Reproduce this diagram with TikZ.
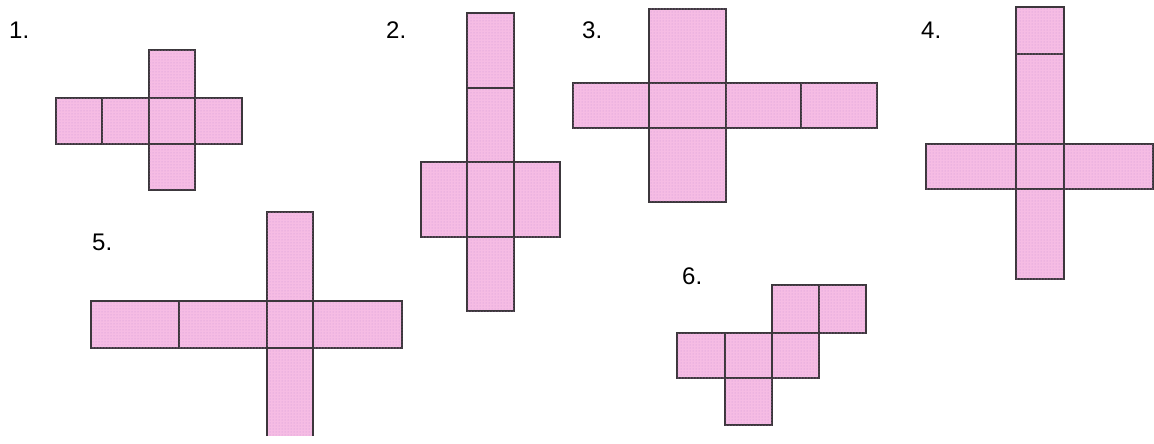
\documentclass[tikz,border=0pt]{standalone}
\usepackage{fontspec}
\setmainfont{Liberation Sans}
\usetikzlibrary{patterns}
\definecolor{netpink}{RGB}{246,188,228}
\definecolor{netdot}{RGB}{205,150,215}
\definecolor{netedge}{RGB}{60,55,60}
\tikzstyle{face} = [
    fill=netpink,
    postaction={pattern=dots, pattern color=netdot},
    draw=netedge,
    line width=1.4pt
]
\tikzstyle{openface} = [
    draw=netedge,
    line width=1.4pt
]
\tikzstyle{numlabel} = [
    anchor=base west,
    inner sep=0pt,
    font=\fontsize{24}{28}\selectfont
]

\begin{document}
\begin{tikzpicture}[x=1pt, y=-1pt]

\useasboundingbox (0,0) rectangle (1154,444);

% net 1
\node (lab1) [numlabel] at (9,39) {1.};
\draw [face] (149,50) rectangle (195,98);
\draw [face] (56,98) rectangle (102,144);
\draw [face] (102,98) rectangle (149,144);
\draw [face] (149,98) rectangle (195,144);
\draw [face] (195,98) rectangle (242,144);
\draw [face] (149,144) rectangle (195,190);

% net 2
\node (lab2) [numlabel] at (386,39) {2.};
\draw [face] (467,13) rectangle (514,88);
\draw [face] (467,88) rectangle (514,162);
\draw [face] (421,162) rectangle (467,237);
\draw [face] (467,162) rectangle (514,237);
\draw [face] (514,162) rectangle (560,237);
\draw [face] (467,237) rectangle (514,311);

% net 3
\node (lab3) [numlabel] at (582,39) {3.};
\draw [face] (649,9) rectangle (726,83);
\draw [face] (573,83) rectangle (649,128);
\draw [face] (649,83) rectangle (726,128);
\draw [face] (726,83) rectangle (801,128);
\draw [face] (801,83) rectangle (877,128);
\draw [face] (649,128) rectangle (726,202);

% net 4
\node (lab4) [numlabel] at (921,39) {4.};
\draw [face] (1016,7) rectangle (1064,54);
\draw [face] (1016,54) rectangle (1064,144);
\draw [face] (926,144) rectangle (1016,189);
\draw [face] (1016,144) rectangle (1064,189);
\draw [face] (1064,144) rectangle (1153,189);
\draw [face] (1016,189) rectangle (1064,279);

% net 5
\node (lab5) [numlabel] at (92,250) {5.};
\draw [face] (267,212) rectangle (313,301);
\draw [face] (91,301) rectangle (179,348);
\draw [face] (179,301) rectangle (267,348);
\draw [face] (267,301) rectangle (313,348);
\draw [face] (313,301) rectangle (402,348);
\fill [netpink, postaction={pattern=dots, pattern color=netdot}] (267,348) rectangle (313,436);
\draw [openface] (267,436) -- (267,348) -- (313,348) -- (313,436);

% net 6
\node (lab6) [numlabel] at (682,284) {6.};
\draw [face] (772,285) rectangle (819,333);
\draw [face] (819,285) rectangle (866,333);
\draw [face] (677,333) rectangle (725,378);
\draw [face] (725,333) rectangle (772,378);
\draw [face] (772,333) rectangle (819,378);
\draw [face] (725,378) rectangle (772,425);

\end{tikzpicture}
\end{document}
